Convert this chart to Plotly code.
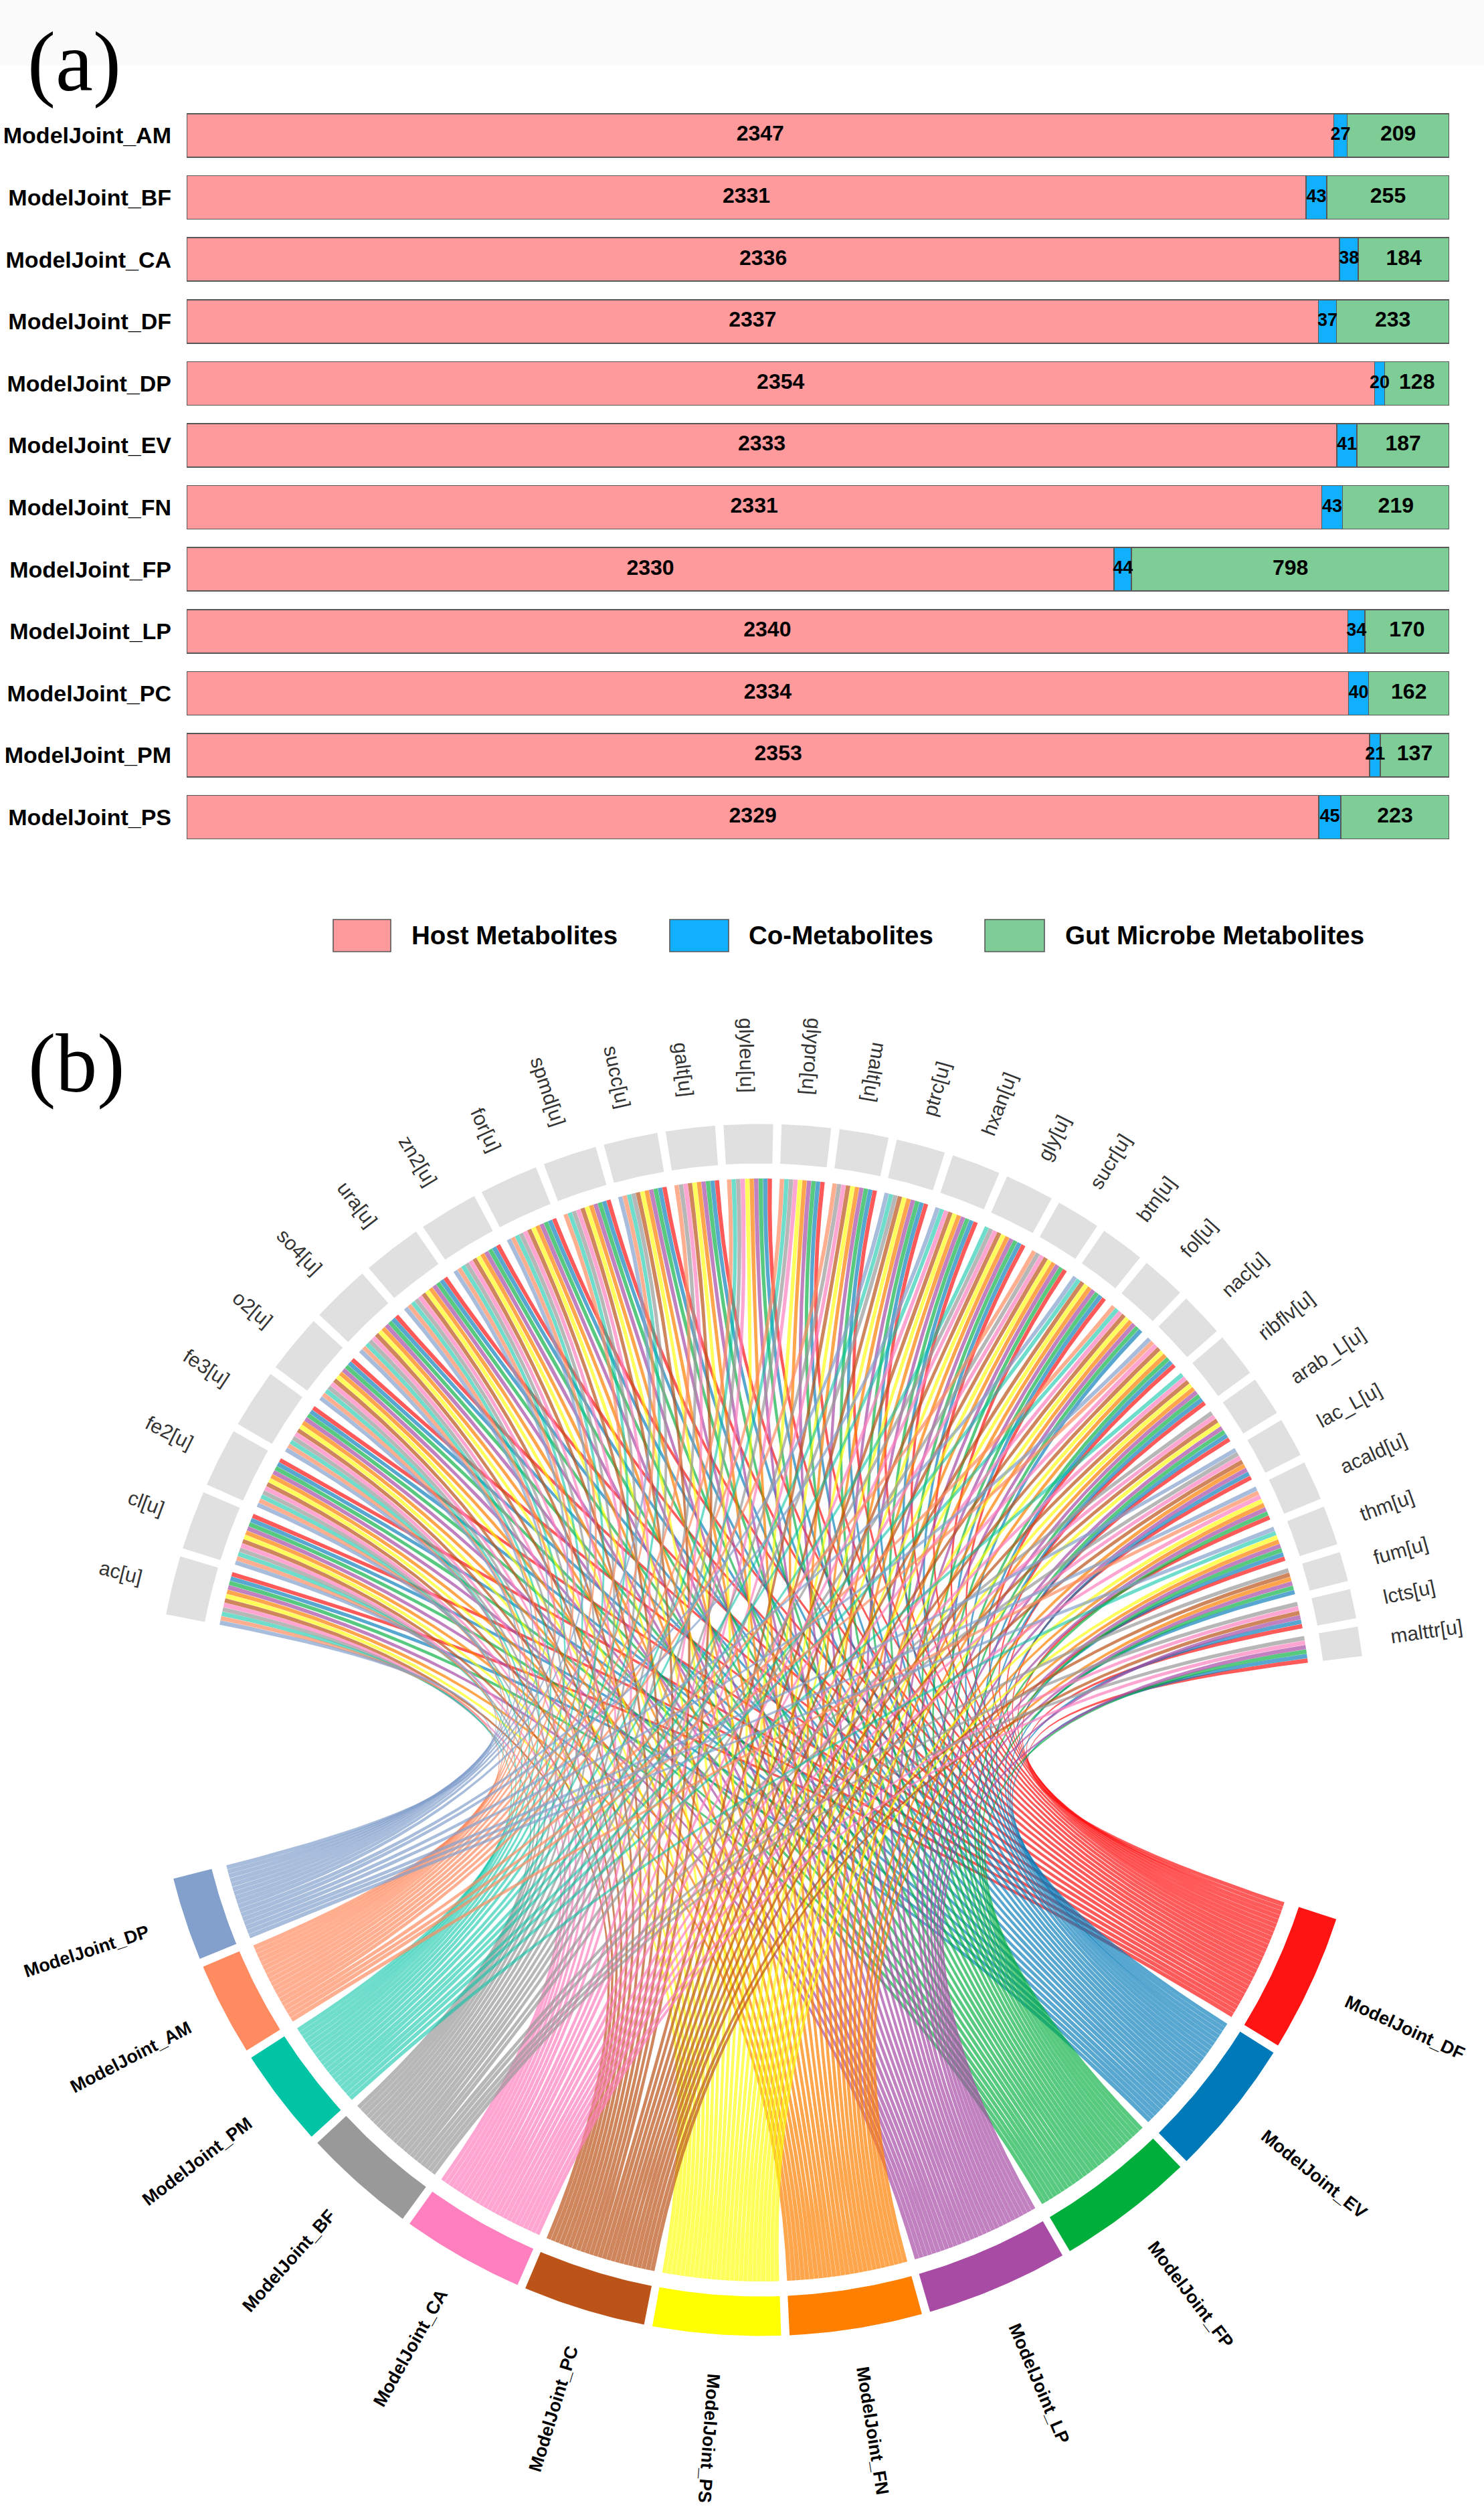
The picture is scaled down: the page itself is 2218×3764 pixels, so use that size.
import math
import plotly.graph_objects as go

W, H = 2218, 3764

# ---------- panel (a) data ----------
bar_models = ["ModelJoint_AM", "ModelJoint_BF", "ModelJoint_CA", "ModelJoint_DF", "ModelJoint_DP", "ModelJoint_EV",
              "ModelJoint_FN", "ModelJoint_FP", "ModelJoint_LP", "ModelJoint_PC", "ModelJoint_PM", "ModelJoint_PS"]
host_values = [2347, 2331, 2336, 2337, 2354, 2333, 2331, 2330, 2340, 2334, 2353, 2329]
co_values = [27, 43, 38, 37, 20, 41, 43, 44, 34, 40, 21, 45]
gut_values = [209, 255, 184, 233, 128, 187, 219, 798, 170, 162, 137, 223]
legend_names = ["Host Metabolites", "Co-Metabolites", "Gut Microbe Metabolites"]

# ---------- panel (b) data ----------
metabolites = ["ac[u]", "cl[u]", "fe2[u]", "fe3[u]", "o2[u]", "so4[u]", "ura[u]", "zn2[u]", "for[u]", "spmd[u]",
               "succ[u]", "galt[u]", "glyleu[u]", "glypro[u]", "malt[u]", "ptrc[u]", "hxan[u]", "gly[u]", "sucr[u]",
               "btn[u]", "fol[u]", "nac[u]", "ribflv[u]", "arab_L[u]", "lac_L[u]", "acald[u]", "thm[u]", "fum[u]",
               "lcts[u]", "malttr[u]"]
# models joined to each metabolite
metabolite_links = [
    "DP AM PM BF CA PC PS FN LP FP EV DF", "DP AM PM BF CA PC PS FN LP FP EV DF",
    "DP AM PM BF CA PC PS FN LP FP EV DF", "DP AM PM BF CA PC PS FN LP FP EV DF",
    "DP AM PM BF CA PC PS FN LP FP EV DF", "DP AM PM BF CA PC PS FN LP FP EV DF",
    "DP AM PM BF CA PC PS FN LP FP EV DF", "DP AM PM BF CA PC PS FN LP FP EV DF",
    "DP AM PM BF CA PC PS FN LP FP EV DF", "AM PM BF CA PC PS FN LP FP EV DF",
    "DP AM PM BF PC PS FN LP FP EV DF", "AM BF CA PC PS FN LP FP EV DF",
    "AM PM BF CA PS FN LP FP EV DF", "AM PM BF CA PS FN LP FP EV DF",
    "AM BF CA PC PS FN LP FP EV DF", "DP PM BF PC PS FN LP FP EV DF",
    "DP PM CA PC PS FN LP FP EV DF", "PM BF CA PC PS FN LP FP EV DF",
    "AM BF CA PC PS FN LP FP DF", "DP PM PC PS FN LP FP EV DF",
    "AM PM CA PC PS FN LP FP EV", "DP AM CA PC PS FN FP EV DF",
    "PM CA PC PS FN LP FP EV DF", "BF CA PC PS LP FP EV DF",
    "DP BF CA PC FN LP EV DF", "DP AM CA PS FN LP FP DF",
    "DP PM PS FN LP FP EV DF", "BF PC FN LP FP EV",
    "BF CA PC LP EV DF", "BF CA LP FP EV DF",
]
model_codes = ["DF", "EV", "FP", "LP", "FN", "PS", "PC", "CA", "BF", "PM", "AM", "DP"]
model_colors = ["#FF1414", "#0079B9", "#00AE3C", "#A74BA5", "#FF8000", "#FFFF00",
                "#BC5318", "#FF7FBF", "#999999", "#00C4A4", "#FF8C61", "#839FCC"]
link_alphas = [0.7, 0.66, 0.66, 0.7, 0.7, 0.64, 0.7, 0.7, 0.7, 0.57, 0.7, 0.7]

# ---------- layout constants ----------
CX, CY = 1137.0, 2585.0
R_OUT, R_IN, R_LINK = 905.5, 846.5, 824.0
START_DEG, GAP, BIG_GAP = 169.0, 0.8, 25.2
SLOT_INSET = 0.02
RING_GREY = "#E0E0E0"
BAR_EDGE = "rgb(88,88,88)"
BAR_COLORS = ["#FF9A9C", "#10B0FF", "#7FCD96"]
FONT = "Liberation Sans"
BAR_PITCH = 92.6
BAR_TOP = 170 - (BAR_PITCH - 65) / 2

CHAR_EM = {"a": .556, "b": .556, "c": .5, "d": .556, "e": .556, "f": .278, "g": .556, "h": .556, "i": .222, "j": .222,
           "k": .5, "l": .222, "m": .833, "n": .556, "o": .556, "p": .556, "q": .556, "r": .333, "s": .5, "t": .278,
           "u": .556, "v": .5, "w": .722, "x": .5, "y": .5, "z": .5, "_": .556, "[": .278, "]": .278, "L": .556}


def text_len(s, size):
    return sum(CHAR_EM.get(c, .556) for c in s) * size


def pol(r, deg):
    t = math.radians(deg)
    return r * math.cos(t), r * math.sin(t)


def hex_rgba(h, a):
    return f"rgba({int(h[1:3], 16)},{int(h[3:5], 16)},{int(h[5:7], 16)},{a})"


def arc(r, d1, d2, n=None):
    n = n or max(2, int(abs(d2 - d1) * 2) + 2)
    return [pol(r, d1 + (d2 - d1) * i / (n - 1)) for i in range(n)]


def bezier(p0, p2, n=36):
    pts = []
    for i in range(n):
        s = i / (n - 1)
        # quadratic curve whose control point is the circle centre
        pts.append(((1 - s) ** 2 * p0[0] + s ** 2 * p2[0], (1 - s) ** 2 * p0[1] + s ** 2 * p2[1]))
    return pts


fig = go.Figure()

# ---------- panel (a) ----------
for name, vals, col in zip(legend_names, [host_values, co_values, gut_values], BAR_COLORS):
    fig.add_trace(go.Bar(
        y=bar_models, x=vals, name=name, orientation="h", marker=dict(color=col, line=dict(color=BAR_EDGE, width=1.6)),
        showlegend=False, hoverinfo="skip", xaxis="x", yaxis="y"))

# value labels at the centre of each stacked segment (above every bar)
totals = [a + b + c for a, b, c in zip(host_values, co_values, gut_values)]
before = [[0] * 12, host_values, [a + b for a, b in zip(host_values, co_values)]]
for vals, base, size in zip([host_values, co_values, gut_values], before, [32, 27, 32]):
    fig.add_trace(go.Scatter(
        y=bar_models, x=[100 * (b + v / 2) / t for b, v, t in zip(base, vals, totals)],
        text=[str(v) for v in vals], mode="text", textposition="middle center", cliponaxis=False,
        textfont=dict(family=FONT, size=size, color="#000", weight="bold"),
        showlegend=False, hoverinfo="skip", xaxis="x", yaxis="y"))

# ---------- panel (b): allocate sectors clockwise ----------
links_by_met = [s.split() for s in metabolite_links]
deg_model = {c: sum(c in l for l in links_by_met) for c in model_codes}
total = sum(len(l) for l in links_by_met)
unit = (360 - 2 * BIG_GAP - GAP * (len(metabolites) - 1 + len(model_codes) - 1)) / (2 * total)

a = START_DEG
met_span = []
for l in links_by_met:
    met_span.append((a, a - len(l) * unit))
    a -= len(l) * unit + GAP
a = a + GAP - BIG_GAP
model_span = {}
for c in model_codes:
    model_span[c] = (a, a - deg_model[c] * unit)
    a -= deg_model[c] * unit + GAP

# link slots: metabolite side runs DP..DF clockwise, model side runs last metabolite..first clockwise
order_at_met = list(reversed(model_codes))
model_cursor = {c: model_span[c][0] for c in model_codes}
met_slots = {}
for i, l in enumerate(links_by_met):
    cur = met_span[i][0]
    for c in order_at_met:
        if c in l:
            met_slots[(i, c)] = (cur, cur - unit)
            cur -= unit
model_slots = {}
for i in range(len(metabolites) - 1, -1, -1):
    for c in model_codes:
        if c in links_by_met[i]:
            model_slots[(i, c)] = (model_cursor[c], model_cursor[c] - unit)
            model_cursor[c] -= unit

# ribbons
inset = SLOT_INSET * unit
for c, col, alpha in zip(model_codes, model_colors, link_alphas):
    for i in range(len(metabolites)):
        if c not in links_by_met[i]:
            continue
        a1, a2 = met_slots[(i, c)]
        b1, b2 = model_slots[(i, c)]
        a1, a2, b1, b2 = a1 - inset, a2 + inset, b1 - inset, b2 + inset
        pts = arc(R_LINK, a1, a2, 3)
        pts += bezier(pol(R_LINK, a2), pol(R_LINK, b1))
        pts += arc(R_LINK, b1, b2, 3)
        pts += bezier(pol(R_LINK, b2), pol(R_LINK, a1))
        fig.add_trace(go.Scatter(
            x=[p[0] for p in pts], y=[p[1] for p in pts], mode="lines", fill="toself",
            fillcolor=hex_rgba(col, alpha), line=dict(width=0, color="rgba(0,0,0,0)"),
            hoverinfo="skip", showlegend=False, xaxis="x2", yaxis="y2"))


def ring(d1, d2, color):
    pts = arc(R_OUT, d1, d2) + arc(R_IN, d2, d1)
    fig.add_trace(go.Scatter(
        x=[p[0] for p in pts], y=[p[1] for p in pts], mode="lines", fill="toself", fillcolor=color,
        line=dict(width=0, color=color), hoverinfo="skip", showlegend=False, xaxis="x2", yaxis="y2"))


for s in met_span:
    ring(s[0], s[1], RING_GREY)
for c, col in zip(model_codes, model_colors):
    ring(model_span[c][0], model_span[c][1], col)

annotations = []


def radial_label(text, deg, r0, size, length, bold, color, flip_test):
    d = (deg + 360) % 360
    inward = flip_test(d)
    rc = r0 + length / 2
    x, y = pol(rc, d)
    angle = (180 - d) if inward else -d
    annotations.append(dict(
        x=x, y=y, xref="x2", yref="y2", text=text, textangle=angle, showarrow=False,
        xanchor="center", yanchor="middle",
        font=dict(family=FONT, size=size, color=color, weight="bold" if bold else "normal")))


for name, s in zip(metabolites, met_span):
    radial_label(name, (s[0] + s[1]) / 2, 952, 30, text_len(name, 30), False, "#333333", lambda d: d > 78)
for c in model_codes:
    s = model_span[c]
    radial_label("ModelJoint_" + c, (s[0] + s[1]) / 2, 963, 27, 196, True, "#000000", lambda d: d < 265)

# panel letters
for txt, px, py, size in [("(a)", 111, 93, 126), ("(b)", 114, 1589, 124)]:
    annotations.append(dict(x=px / W, y=1 - py / H, xref="paper", yref="paper", text=txt, showarrow=False,
                            xanchor="center", yanchor="middle",
                            font=dict(family="Liberation Serif", size=size, color="#000")))

# legend
shapes = [dict(type="rect", xref="paper", yref="paper", x0=0, x1=1, y0=1 - 98 / H, y1=1,
               fillcolor="#FBFBFB", line=dict(width=0), layer="below")]
for name, col, x0, x1, tx in zip(legend_names, BAR_COLORS, [498, 1001, 1472], [584, 1089, 1561], [613, 1117, 1590]):
    shapes.append(dict(type="rect", xref="paper", yref="paper", x0=x0 / W, x1=x1 / W, y0=1 - 1422 / H, y1=1 - 1374 / H,
                       fillcolor=col, line=dict(color=BAR_EDGE, width=1.6)))
    annotations.append(dict(x=tx / W, y=1 - 1397 / H, xref="paper", yref="paper", text=name, showarrow=False,
                            xanchor="left", yanchor="middle",
                            font=dict(family=FONT, size=38.5, color="#000", weight="bold")))

fig.update_layout(
    width=W, height=H, margin=dict(l=0, r=0, t=0, b=0), paper_bgcolor="white", plot_bgcolor="rgba(0,0,0,0)",
    barmode="stack", barnorm="percent", bargap=1 - 65 / BAR_PITCH, showlegend=False,
    annotations=annotations, shapes=shapes,
    xaxis=dict(domain=[279 / W, 2166 / W], range=[0, 100], visible=False, anchor="y", fixedrange=True),
    yaxis=dict(domain=[1 - (BAR_TOP + 12 * BAR_PITCH) / H, 1 - BAR_TOP / H], anchor="x", range=[11.5, -0.5],
               showgrid=False, zeroline=False, showline=False, ticks="", ticklabelstandoff=22,
               tickfont=dict(family=FONT, size=34, color="#000", weight="bold"), fixedrange=True),
    xaxis2=dict(domain=[0, 1], range=[-CX, W - CX], visible=False, anchor="y2", fixedrange=True),
    yaxis2=dict(domain=[0, 1], range=[-(H - CY), CY], visible=False, anchor="x2", fixedrange=True),
)

fig.write_html("out.html", config=dict(displayModeBar=False),
               post_script="document.body.style.margin='0';")
